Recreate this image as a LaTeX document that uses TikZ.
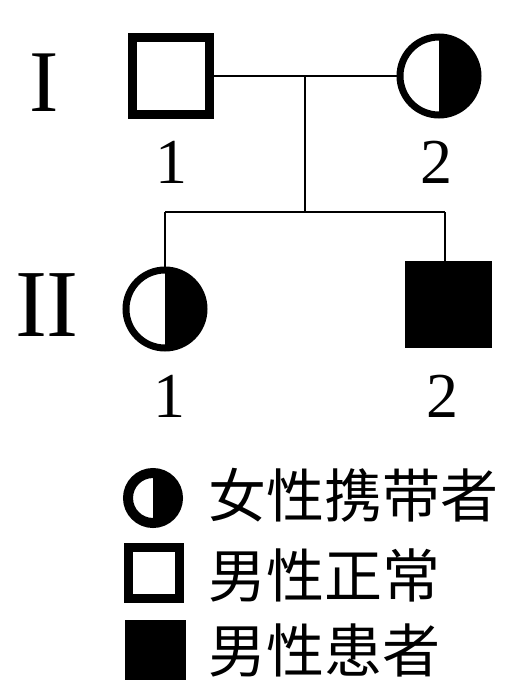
\documentclass[tikz,border=0pt]{standalone}
\usepackage{fontspec}
\setmainfont{Liberation Serif}
\newfontfamily\cjk{Noto Sans CJK SC}
\usepackage{tikz}

\begin{document}
\begin{tikzpicture}[x=1pt, y=-1pt,
    male/.style={rectangle, draw, line width=9pt, minimum size=77pt, inner sep=0pt},
    patient/.style={rectangle, draw, fill=black, line width=3pt, minimum size=84pt, inner sep=0pt},
    carrier/.style={circle, draw, line width=7pt, minimum size=78pt, inner sep=0pt,
      path picture={\fill (path picture bounding box.north) rectangle (path picture bounding box.south east);}},
    num/.style={font=\fontsize{64}{64}\selectfont, inner sep=0pt},
    gen/.style={font=\fontsize{88}{88}\selectfont, inner sep=0pt},
    legtext/.style={font=\cjk\fontsize{58}{58}\selectfont, anchor=west, inner sep=0pt},
    link/.style={line width=2.4pt}]
    \useasboundingbox (0,0) rectangle (506,680);
    \node[gen] (g1) at (44, 83) {I};
    \node[gen, font=\fontsize{96}{96}\selectfont] (g2) at (47, 305) {II};
    \node[male] (i1) at (171, 76) {};
    \node[carrier] (i2) at (439, 76) {};
    \node[num] (n11) at (171, 162) {1};
    \node[num] (n12) at (436, 162) {2};
    \coordinate (m) at (305, 76);
    \coordinate (s) at (305, 212);
    \coordinate (c1) at (165, 212);
    \coordinate (c2) at (445, 212);
    \node[carrier] (ii1) at (165, 309) {};
    \node[patient] (ii2) at (448, 304) {};
    \node[num] (n21) at (169, 396) {1};
    \node[num] (n22) at (442, 396) {2};
    \draw[link] (i1.east) to (i2.west);
    \draw[link] (m) to (s);
    \draw[link] (c1) to (c2);
    \draw[link] (c1) to (ii1.north);
    \draw[link] (c2) to (c2 |- ii2.north);
    \node[carrier, line width=10pt, minimum size=50pt] (k1) at (153, 498) {};
    \node[male, minimum size=51pt] (k2) at (154, 573) {};
    \node[patient, line width=1pt, minimum size=60pt] (k3) at (155, 650) {};
    \node[legtext] (t1) at (208, 495) {女性携带者};
    \node[legtext] (t2) at (208, 575) {男性正常};
    \node[legtext] (t3) at (208, 650) {男性患者};
\end{tikzpicture}
\end{document}
